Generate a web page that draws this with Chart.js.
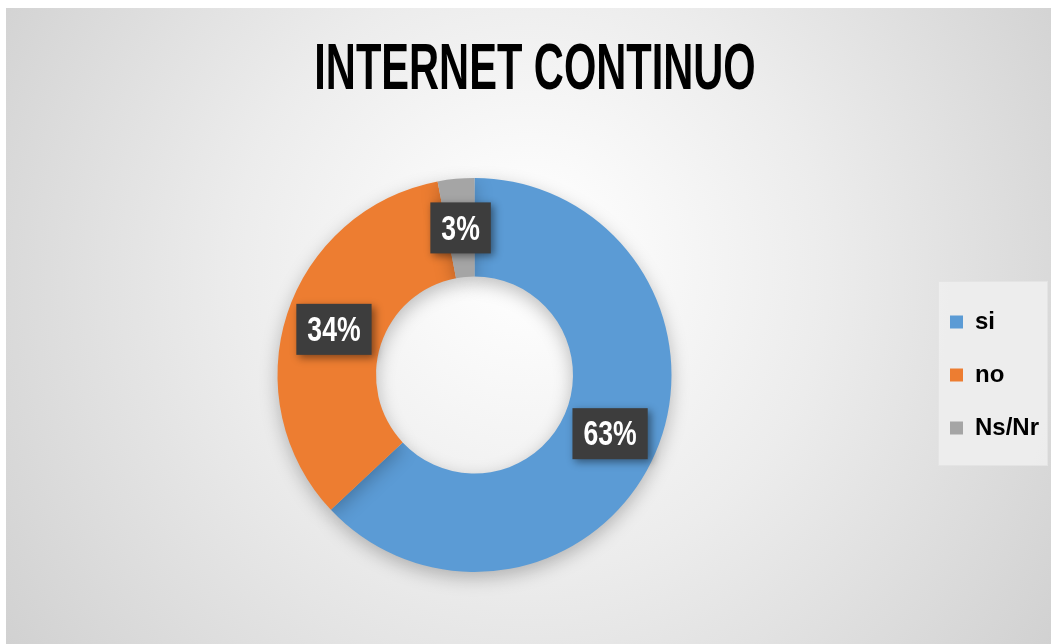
<!DOCTYPE html>
<html>
<head>
<meta charset="utf-8">
<script src="https://cdn.jsdelivr.net/npm/chart.js@4"></script>
<style>
html,body{margin:0;padding:0;background:#fff;}
#wrap{width:1057px;height:644px;position:relative;}
</style>
</head>
<body>
<div id="wrap"><canvas id="c" width="1057" height="644"></canvas></div>
<script>
const categories = ["si", "no", "Ns/Nr"];
const values = [63, 34, 3];
const valueLabels = ["63%", "34%", "3%"];
const colors = ["#5B9BD5", "#ED7D31", "#A5A5A5"];
const titleText = "INTERNET CONTINUO";
const FONT = "'Liberation Sans', Arial, sans-serif";

const bgPlugin = {
  id: 'bg',
  beforeDraw(chart) {
    const ctx = chart.ctx;
    ctx.save();
    ctx.fillStyle = '#ffffff';
    ctx.fillRect(0, 0, chart.width, chart.height);
    const g = ctx.createRadialGradient(530, 250, 20, 530, 300, 640);
    g.addColorStop(0, '#ffffff');
    g.addColorStop(0.45, '#ececec');
    g.addColorStop(1, '#d0d0d0');
    ctx.fillStyle = g;
    ctx.fillRect(6, 8, 1045, 640);
    // legend frame around the legend items
    const lg = chart.legend;
    if (lg && lg.legendHitBoxes && lg.legendHitBoxes.length) {
      const hb = lg.legendHitBoxes;
      const top = hb[0].top - 29;
      const bottom = hb[hb.length - 1].top + hb[hb.length - 1].height + 26;
      const left = hb[0].left - 12;
      const right = 1048;
      ctx.fillStyle = 'rgba(238,238,238,0.9)';
      ctx.strokeStyle = 'rgba(228,228,228,1)';
      ctx.lineWidth = 1;
      ctx.fillRect(left, top, right - left, bottom - top);
      ctx.strokeRect(left + 0.5, top + 0.5, right - left - 1, bottom - top - 1);
    }
    // title (condensed look)
    ctx.font = "bold 64px " + FONT;
    ctx.fillStyle = '#000';
    ctx.textAlign = 'center';
    ctx.textBaseline = 'alphabetic';
    ctx.translate(535, 89);
    ctx.scale(0.65, 1);
    ctx.fillText(titleText, 0, 0);
    ctx.restore();
  }
};

const shadowPlugin = {
  id: 'ringShadow',
  beforeDatasetsDraw(chart) {
    const ctx = chart.ctx;
    ctx.save();
    ctx.shadowColor = 'rgba(0,0,0,0.25)';
    ctx.shadowBlur = 18;
    ctx.shadowOffsetY = 6;
  },
  afterDatasetsDraw(chart) {
    chart.ctx.restore();
  }
};

const labelPlugin = {
  id: 'valueBoxes',
  afterDatasetsDraw(chart) {
    const ctx = chart.ctx;
    const meta = chart.getDatasetMeta(0);
    meta.data.forEach((arc, i) => {
      const p = arc.getProps(['x', 'y', 'startAngle', 'endAngle', 'innerRadius', 'outerRadius'], true);
      const a = (p.startAngle + p.endAngle) / 2;
      const r = (p.innerRadius + p.outerRadius) / 2;
      const cx = p.x + Math.cos(a) * r;
      const cy = p.y + Math.sin(a) * r;
      const txt = valueLabels[i];
      const sx = 0.76;
      ctx.save();
      ctx.font = "bold 35px " + FONT;
      const tw = ctx.measureText(txt).width * sx;
      const bw = tw + 22, bh = 51;
      ctx.shadowColor = 'rgba(0,0,0,0.45)';
      ctx.shadowBlur = 8;
      ctx.shadowOffsetX = 3;
      ctx.shadowOffsetY = 3;
      ctx.fillStyle = '#3d3d3d';
      ctx.fillRect(cx - bw / 2, cy - bh / 2, bw, bh);
      ctx.shadowColor = 'transparent';
      ctx.fillStyle = '#ffffff';
      ctx.textAlign = 'center';
      ctx.textBaseline = 'middle';
      ctx.translate(cx, cy + 2);
      ctx.scale(sx, 1);
      ctx.fillText(txt, 0, 0);
      ctx.restore();
    });
  }
};

new Chart(document.getElementById('c'), {
  type: 'doughnut',
  data: {
    labels: categories,
    datasets: [{
      data: values,
      backgroundColor: colors,
      borderWidth: 0
    }]
  },
  options: {
    responsive: false,
    animation: false,
    cutout: '50%',
    layout: { padding: { left: 28, right: 8, top: 178, bottom: 72 } },
    plugins: {
      title: { display: false },
      legend: {
        position: 'right',
        align: 'center',
        labels: {
          color: '#000',
          font: { family: FONT, size: 24, weight: 'bold' },
          boxWidth: 13,
          boxHeight: 13,
          padding: 29
        }
      },
      tooltip: { enabled: false }
    }
  },
  plugins: [bgPlugin, shadowPlugin, labelPlugin]
});
</script>
</body>
</html>
